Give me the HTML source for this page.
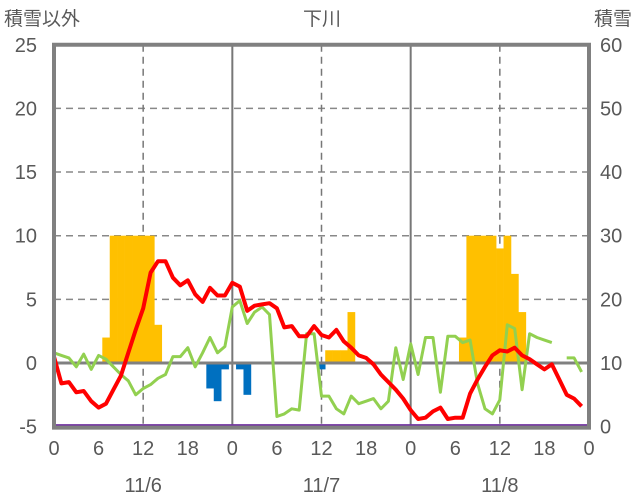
<!DOCTYPE html>
<html><head><meta charset="utf-8">
<style>
html,body{margin:0;padding:0;background:#fff;}
svg{display:block;font-family:"Liberation Sans","Noto Sans CJK JP",sans-serif;}
</style></head>
<body>
<svg id="chart" width="636" height="501" viewBox="0 0 636 501" xmlns="http://www.w3.org/2000/svg">
<g id="grid"></g>
<g id="bars"></g>
<g id="lines"></g>
<g id="frame"></g>
<g id="labels" fill="#595959" font-size="20"></g>
<text x="4" y="25" font-size="19" fill="#595959">積雪以外</text>
<text x="322" y="25" font-size="19" fill="#595959" text-anchor="middle">下川</text>
<text x="632" y="25" font-size="19" fill="#595959" text-anchor="end">積雪</text>
</svg>
<script>
const leftTicks=[-5,0,5,10,15,20,25];
const rightTicks=[0,10,20,30,40,50,60];
const hourTicks=[0,6,12,18,0,6,12,18,0,6,12,18,0];
const dates=["11/6","11/7","11/8"];
const barHours=[7,8,9,10,11,12,13,14,21,22,23,25,26,36,37,38,39,40,55,56,57,58,59,60,61,62,63];
const barValues=[2,10,10,10,10,10,10,3,-2,-3,-0.5,-0.5,-2.5,-0.5,1,1,1,4,2,10,10,10,10,9,10,7,4];
const tempRed=[0.5,-1.6,-1.5,-2.3,-2.2,-3.0,-3.5,-3.2,-2.1,-1.0,0.8,2.6,4.3,7.1,8.0,8.0,6.7,6.1,6.5,5.4,4.8,5.9,5.3,5.3,6.3,6.0,4.1,4.5,4.6,4.7,4.3,2.8,2.9,2.1,2.1,2.9,2.2,2.0,2.6,1.7,1.2,0.6,0.4,-0.1,-0.9,-1.5,-2.1,-2.8,-3.7,-4.4,-4.3,-3.8,-3.5,-4.4,-4.3,-4.3,-2.4,-1.3,-0.3,0.6,1.0,0.9,1.2,0.6,0.3,-0.1,-0.5,-0.1,-1.3,-2.5,-2.8,-3.4];
const greenSeries=[0.8,0.6,0.4,-0.3,0.7,-0.5,0.6,0.3,-0.3,-0.9,-1.4,-2.5,-2.0,-1.7,-1.2,-0.9,0.5,0.5,1.2,-0.3,0.8,2.0,0.8,1.3,4.4,4.9,3.1,4.0,4.4,3.8,-4.2,-4.0,-3.6,-3.7,2.3,2.3,-2.6,-2.6,-3.6,-4.0,-2.6,-3.2,-3.0,-2.8,-3.6,-3.0,1.2,-1.3,1.5,-0.9,2.0,2.0,-2.3,2.1,2.1,1.6,1.8,-1.6,-3.6,-4.0,-2.9,3.0,2.7,-2.1,2.3,2.0,1.8,1.6,null,0.4,0.4,-0.7];
const purpleSeries=[-5,-5];

const X0=54,X1=589,Y0=363,PY=12.73;
const xs=h=>X0+h*(X1-X0)/72;
const ys=v=>Y0-v*PY;
const NS="http://www.w3.org/2000/svg";
function mk(tag,attrs,parent){const e=document.createElementNS(NS,tag);for(const k in attrs)e.setAttribute(k,attrs[k]);parent.appendChild(e);return e;}
const grid=document.getElementById('grid'),bars=document.getElementById('bars'),lines=document.getElementById('lines'),frame=document.getElementById('frame'),labels=document.getElementById('labels');

leftTicks.forEach(v=>{
  if(v===-5||v===25||v===0)return;
  const l=mk('line',{x1:X0,x2:X1,y1:ys(v),y2:ys(v),stroke:'#888','stroke-width':1.5,'stroke-dasharray':'7,5'},grid);
  
  
});
for(let h=12;h<72;h+=12){
  const l=mk('line',{x1:xs(h),x2:xs(h),y1:ys(25),y2:ys(-5),stroke:'#777','stroke-width':(h%24===0)?2:1.5,'stroke-dasharray':(h%24===0)?'none':'7,5'},grid);
  
  
}
const bw=(X1-X0)/72;
barHours.forEach((h,i)=>{
  const v=barValues[i];
  const y=Math.min(ys(v),ys(0)),hh=Math.abs(ys(v)-ys(0));
  const r=mk('rect',{x:xs(h)-bw/2,y:y,width:bw+0.3,height:hh,fill:v>=0?'#FFC000':'#0070C0'},bars);
  
  
});
const z=mk('line',{x1:X0,x2:X1,y1:ys(0),y2:ys(0),stroke:'#808080','stroke-width':3},lines);


function path(arr,color,w,name){
  let d='',pen=false;
  arr.forEach((v,h)=>{if(v===null){pen=false;return;}d+=(pen?'L':'M')+xs(h).toFixed(1)+','+ys(v).toFixed(1);pen=true;});
  const p=mk('path',{d:d,fill:'none',stroke:color,'stroke-width':w,'stroke-linejoin':'round'},lines);
  
  
}
path(greenSeries,'#92D050',3,'green-series-line');
path(tempRed,'#FF0000',4,'temperature-line');
const pl=mk('line',{x1:X0,x2:X1,y1:ys(purpleSeries[0])-1,y2:ys(purpleSeries[1])-1,stroke:'#7030A0','stroke-width':3},lines);


const fr=mk('rect',{x:X0,y:ys(25),width:X1-X0,height:ys(-5)-ys(25)+1,fill:'none',stroke:'#808080','stroke-width':4},frame);



leftTicks.forEach(v=>{
  const t=mk('text',{x:37,y:ys(v)+7,'text-anchor':'end'},labels);t.textContent=v;
  
  
});
rightTicks.forEach((v,i)=>{
  const t=mk('text',{x:600,y:ys(leftTicks[i])+7},labels);t.textContent=v;
  
  
});
hourTicks.forEach((v,i)=>{
  const t=mk('text',{x:xs(i*6),y:455,'text-anchor':'middle'},labels);t.textContent=v;
  
  
});
dates.forEach((d,i)=>{
  const t=mk('text',{x:xs(12+i*24),y:492,'text-anchor':'middle'},labels);t.textContent=d;
  
  
});
</script>
</body></html>
